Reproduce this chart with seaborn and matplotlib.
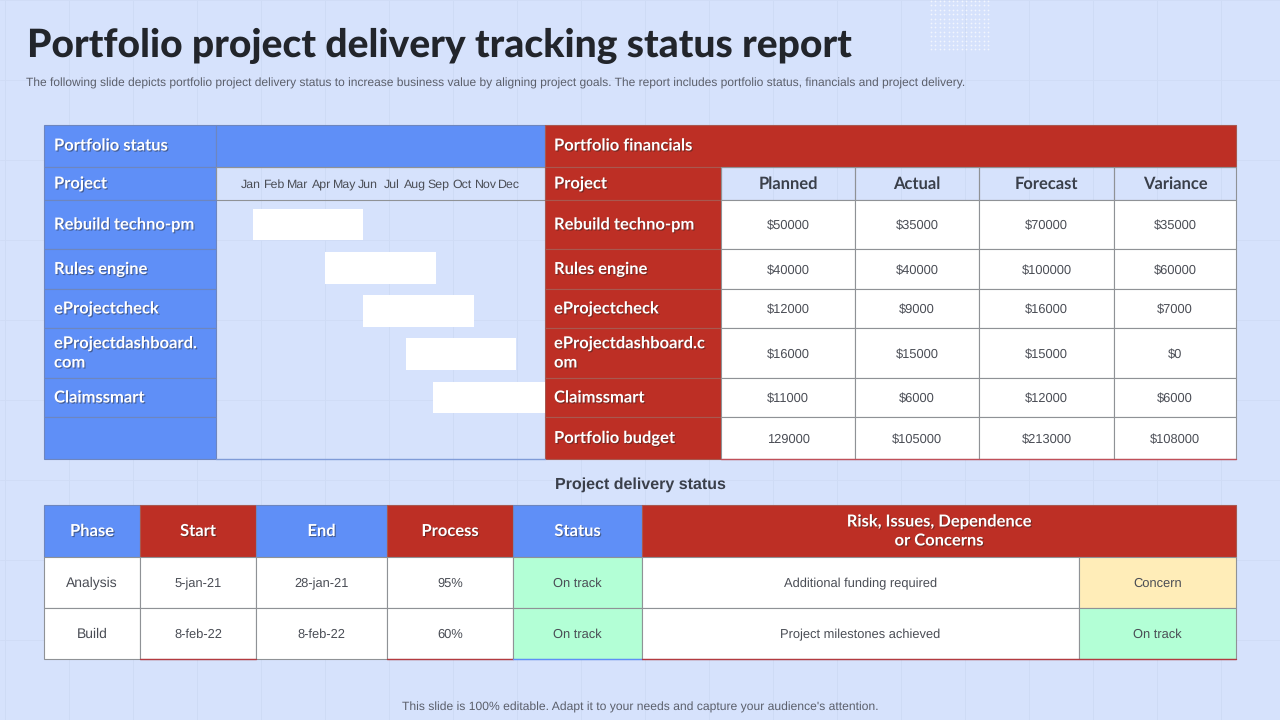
import numpy as np
import pandas as pd
import matplotlib
matplotlib.use("Agg")
import matplotlib.pyplot as plt
import matplotlib.patheffects as pe
from matplotlib.patches import Rectangle
import seaborn as sns

# --------------------------------------------------
# DATA
# --------------------------------------------------

TITLE = "Portfolio project delivery tracking status report"
SUBTITLE = ("The following slide depicts portfolio project delivery status to increase business value by "
            "aligning project goals. The report includes portfolio status, financials and project delivery.")
FOOTER = "This slide is 100% editable. Adapt it to your needs and capture your audience's attention."

MONTHS = ["Jan", "Feb", "Mar", "Apr", "May", "Jun", "Jul", "Aug", "Sep", "Oct", "Nov", "Dec"]
PROJECTS = ["Rebuild techno-pm", "Rules engine", "eProjectcheck", "eProjectdashboard.\ncom", "Claimssmart"]
PROJECTS_RIGHT = ["Rebuild techno-pm", "Rules engine", "eProjectcheck", "eProjectdashboard.c\nom", "Claimssmart",
                  "Portfolio budget"]
# month units, 0 = centre of the Jan label
GANTT_START = [0.09, 3.16, 4.78, 6.61, 7.76]
GANTT_END = [4.78, 7.89, 9.51, 11.3, 12.54]

FIN_HEADERS = ["Planned", "Actual", "Forecast", "Variance"]
PLANNED = ["$50000", "$40000", "$12000", "$16000", "$11000", "129000"]
ACTUAL = ["$35000", "$40000", "$9000", "$15000", "$6000", "$105000"]
FORECAST = ["$70000", "$100000", "$16000", "$15000", "$12000", "$213000"]
VARIANCE = ["$35000", "$60000", "$7000", "$0", "$6000", "$108000"]

PHASE_HEADERS = ["Phase", "Start", "End", "Process", "Status", "Risk, Issues, Dependence\nor Concerns"]
PHASE = ["Analysis", "Build"]
START = ["5-jan-21", "8-feb-22"]
END = ["28-jan-21", "8-feb-22"]
PROCESS = ["95%", "60%"]
STATUS = ["On track", "On track"]
RISK = ["Additional funding required", "Project milestones achieved"]
RISK_STATUS = ["Concern", "On track"]

# --------------------------------------------------
# LAYOUT (pixels) AND COLOURS
# --------------------------------------------------

TOP_X = [44, 216, 545, 721, 855, 979, 1114, 1236]
TOP_Y = [125, 167, 200, 249, 289, 328, 378, 417, 459]
LOW_X = [44, 140, 256, 387, 513, 642, 1079, 1236]
LOW_Y = [505, 557, 608, 659]

BG = "#D6E2FC"
BLUE = "#5F8FF7"
RED = "#BD2F25"
GREEN = "#B3FFD6"
CREAM = "#FFEDB8"
EDGE = "#8F9296"
EDGE_BLUE = "#6E86BE"
EDGE_RED = "#A8584F"
DARK = "#3A3F4A"
BODY = "#4A4D55"

sns.set_theme(style="white")
plt.rcParams["font.family"] = ["Liberation Sans", "DejaVu Sans"]
plt.rcParams["text.hinting"] = "none"

fig = plt.figure(figsize=(12.8, 7.2), dpi=100, facecolor=BG)
ax = fig.add_axes([0, 0, 1, 1])
ax.set_xlim(0, 1280)
ax.set_ylim(720, 0)
ax.axis("off")

shadow = [pe.withSimplePatchShadow(offset=(0.8, -0.8), shadow_rgbFace="#222222", alpha=0.45)]


def cell(x0, x1, y0, y1, color=None, edge=EDGE):
    ax.add_patch(Rectangle((x0, y0), x1 - x0, y1 - y0, facecolor=color or "none",
                           edgecolor=edge, linewidth=0.8, zorder=2, snap=True))


def head(x, cy, s, ha="left", color="white", size=11.9):
    # baseline anchored so that letters with descenders stay in line
    y = cy + 5.5 + s.count("\n") * 9.5
    ax.text(x, y, s, ha=ha, va="baseline", color=color, fontsize=size, fontfamily="Lato", fontweight="bold",
            linespacing=1.28, zorder=4, path_effects=shadow if color == "white" else None)


def body(x, cy, s, size=9.3):
    ax.text(x, cy + 4.5, s, ha="center", va="baseline", color=BODY, fontsize=size, zorder=4)


# faint slide grid
for x in range(5, 1280, 64):
    ax.axvline(x, color="#CEDBF5", lw=0.7, zorder=0)
for y in range(0, 720, 80):
    ax.axhline(y, color="#D0DCF6", lw=0.7, zorder=0)

# dotted decoration top right of the title
dx, dy = np.meshgrid(np.arange(931, 990, 4.4), np.arange(1, 50, 4.4))
ax.scatter(dx.ravel(), dy.ravel(), s=1.6, color="white", alpha=0.7, linewidths=0, zorder=1)

ax.text(27, 57, TITLE, ha="left", va="baseline", color="#22252B", fontsize=28.1, fontfamily="Lato", fontweight="black")
ax.text(26, 87, SUBTITLE, ha="left", va="baseline", color="#5B5F6B", fontsize=8.65)
ax.text(640, 711, FOOTER, ha="center", va="baseline", color="#5B5F6B", fontsize=8.75)
ax.text(640, 488.5, "Project delivery status", ha="center", va="baseline", color=DARK, fontsize=11.5, fontweight="bold")

# --------------------------------------------------
# TOP TABLE
# --------------------------------------------------

# blue side
cell(TOP_X[0], TOP_X[1], TOP_Y[0], TOP_Y[1], BLUE, EDGE_BLUE)
cell(TOP_X[1], TOP_X[2], TOP_Y[0], TOP_Y[1], BLUE, EDGE_BLUE)
head(TOP_X[0] + 10, 145, "Portfolio status")
cell(TOP_X[0], TOP_X[1], TOP_Y[1], TOP_Y[2], BLUE, EDGE_BLUE)
cell(TOP_X[1], TOP_X[2], TOP_Y[1], TOP_Y[2], None)
head(TOP_X[0] + 10, 183, "Project")
for i in range(6):
    cell(TOP_X[0], TOP_X[1], TOP_Y[i + 2], TOP_Y[i + 3], BLUE, EDGE_BLUE)
    if i < 5:
        head(TOP_X[0] + 10, (TOP_Y[i + 2] + TOP_Y[i + 3]) / 2 - 0.5, PROJECTS[i])

# red side
cell(TOP_X[2], TOP_X[7], TOP_Y[0], TOP_Y[1], RED, EDGE_RED)
head(TOP_X[2] + 9, 145, "Portfolio financials")
cell(TOP_X[2], TOP_X[3], TOP_Y[1], TOP_Y[2], RED, EDGE_RED)
head(TOP_X[2] + 9, 183, "Project")
for j, h in enumerate(FIN_HEADERS):
    cell(TOP_X[j + 3], TOP_X[j + 4], TOP_Y[1], TOP_Y[2], None)
    head((TOP_X[j + 3] + TOP_X[j + 4]) / 2, 183, h, ha="center", color=DARK)

for i, name in enumerate(PROJECTS_RIGHT):
    y0, y1 = TOP_Y[i + 2], TOP_Y[i + 3]
    cell(TOP_X[2], TOP_X[3], y0, y1, RED, EDGE_RED)
    head(TOP_X[2] + 9, (y0 + y1) / 2 - 0.5, name)
    for j, col in enumerate([PLANNED, ACTUAL, FORECAST, VARIANCE]):
        cell(TOP_X[j + 3], TOP_X[j + 4], y0, y1, "white")
        body((TOP_X[j + 3] + TOP_X[j + 4]) / 2, (y0 + y1) / 2 + 0.5, col[i])

ax.plot([TOP_X[1], TOP_X[2]], [TOP_Y[-1], TOP_Y[-1]], color="#7F9BD8", lw=1, zorder=3)
ax.plot([TOP_X[3], TOP_X[7]], [TOP_Y[-1], TOP_Y[-1]], color="#C0505A", lw=1, zorder=3)

# --------------------------------------------------
# GANTT, month scale over the status column
# --------------------------------------------------

MONTH_X0, MONTH_STEP = 251, 23.45
ROW_Y0, ROW_STEP = 224.5, 43.25
gx0, gx1, gy0, gy1 = TOP_X[1], TOP_X[2], TOP_Y[1], TOP_Y[-1]
gantt = fig.add_axes([gx0 / 1280, 1 - gy1 / 720, (gx1 - gx0) / 1280, (gy1 - gy0) / 720])
gantt.patch.set_alpha(0)

gantt_df = pd.DataFrame({"project": PROJECTS, "length": np.array(GANTT_END) - np.array(GANTT_START)})
sns.barplot(data=gantt_df, x="length", y="project", orient="y", color="white", saturation=1,
            width=0.73, left=GANTT_START, linewidth=0, ax=gantt)
gantt.set_xlim((gx0 - MONTH_X0) / MONTH_STEP, (gx1 - MONTH_X0) / MONTH_STEP)
gantt.set_ylim((gy1 - ROW_Y0) / ROW_STEP, (gy0 - ROW_Y0) / ROW_STEP)
gantt.axis("off")
for i, m in enumerate(MONTHS):
    gantt.text(i, (187.5 - ROW_Y0) / ROW_STEP, m, ha="center", va="baseline", color=BODY, fontsize=8.9)

# --------------------------------------------------
# LOWER TABLE
# --------------------------------------------------

header_spans = [(0, 1), (1, 2), (2, 3), (3, 4), (4, 5), (5, 7)]
for j, ((a, b), h) in enumerate(zip(header_spans, PHASE_HEADERS)):
    is_blue = j % 2 == 0
    cell(LOW_X[a], LOW_X[b], LOW_Y[0], LOW_Y[1], BLUE if is_blue else RED, EDGE_BLUE if is_blue else EDGE_RED)
    head((LOW_X[a] + LOW_X[b]) / 2, (LOW_Y[0] + LOW_Y[1]) / 2 - 0.5, h, ha="center")

for i in range(len(PHASE)):
    y0, y1 = LOW_Y[i + 1], LOW_Y[i + 2]
    cols = [PHASE, START, END, PROCESS, STATUS, RISK, RISK_STATUS]
    for j, col in enumerate(cols):
        color = "white"
        if j == 4:
            color = GREEN
        if j == 6:
            color = CREAM if col[i] == "Concern" else GREEN
        cell(LOW_X[j], LOW_X[j + 1], y0, y1, color)
        # the phase names are set a little larger
        body((LOW_X[j] + LOW_X[j + 1]) / 2, (y0 + y1) / 2, col[i], size=10 if j == 0 else 9.3)

for a, b, c in [(140, 256, "#B33A40"), (387, 513, "#B33A40"), (513, 642, "#5F8FF7"), (642, 1236, "#B33A40")]:
    ax.plot([a, b], [LOW_Y[-1], LOW_Y[-1]], color=c, lw=1, zorder=3)

fig.savefig("out.png", dpi=100, facecolor=BG)
